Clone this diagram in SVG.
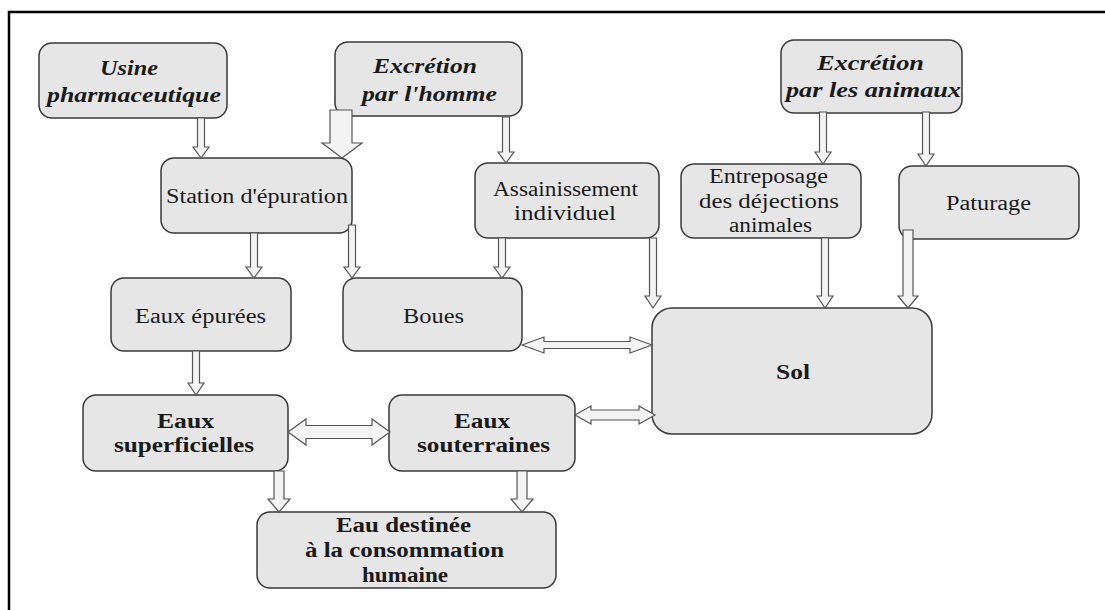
<svg xmlns="http://www.w3.org/2000/svg" width="1105" height="610" viewBox="0 0 1105 610">
<style>
.box{fill:#e6e6e6;stroke:#3a3a3a;stroke-width:1.5}
.arr{fill:#f3f3f3;stroke:#555;stroke-width:1.2;stroke-linejoin:miter}
text{font-family:'Liberation Serif','Times New Roman',Times,serif;fill:#1a1a1a}
.bi{font-size:21px;font-weight:bold;font-style:italic}
.r{font-size:20px}
.b{font-size:20px;font-weight:bold}
.frame{fill:none;stroke:#000;stroke-width:2.5}
</style>
<rect x="0" y="0" width="1105" height="610" fill="#ffffff"/>
<path class="frame" d="M9,610 V12 H1105"/>

<g id="usine">
<rect class="box" x="39" y="43" width="188" height="75" rx="13"/>
<text class="bi" x="100" y="75" textLength="58" lengthAdjust="spacingAndGlyphs">Usine</text>
<text class="bi" x="47" y="102" textLength="174" lengthAdjust="spacingAndGlyphs">pharmaceutique</text>
</g>
<g id="excretion-homme">
<rect class="box" x="335" y="42" width="187" height="74" rx="13"/>
<text class="bi" x="373" y="73" textLength="104" lengthAdjust="spacingAndGlyphs">Excrétion</text>
<text class="bi" x="362" y="101" textLength="135" lengthAdjust="spacingAndGlyphs">par l'homme</text>
</g>
<g id="excretion-animaux">
<rect class="box" x="781" y="40" width="181" height="73" rx="13"/>
<text class="bi" x="817" y="70" textLength="107" lengthAdjust="spacingAndGlyphs">Excrétion</text>
<text class="bi" x="786" y="97" textLength="175" lengthAdjust="spacingAndGlyphs">par les animaux</text>
</g>
<g id="station">
<rect class="box" x="161" y="158" width="191" height="75" rx="13"/>
<text class="r" x="166" y="203" textLength="182" lengthAdjust="spacingAndGlyphs">Station d'épuration</text>
</g>
<g id="assainissement">
<rect class="box" x="475" y="163" width="184" height="75" rx="13"/>
<text class="r" x="493" y="196" textLength="145" lengthAdjust="spacingAndGlyphs">Assainissement</text>
<text class="r" x="514" y="220" textLength="102" lengthAdjust="spacingAndGlyphs">individuel</text>
</g>
<g id="entreposage">
<rect class="box" x="681" y="164" width="180" height="74" rx="13"/>
<text class="r" x="709" y="183" textLength="119" lengthAdjust="spacingAndGlyphs">Entreposage</text>
<text class="r" x="699" y="208" textLength="140" lengthAdjust="spacingAndGlyphs">des déjections</text>
<text class="r" x="729" y="232" textLength="83" lengthAdjust="spacingAndGlyphs">animales</text>
</g>
<g id="paturage">
<rect class="box" x="899" y="166" width="180" height="73" rx="13"/>
<text class="r" x="946" y="210" textLength="85" lengthAdjust="spacingAndGlyphs">Paturage</text>
</g>
<g id="eaux-epurees">
<rect class="box" x="111" y="278" width="180" height="73" rx="13"/>
<text class="r" x="135" y="323" textLength="131" lengthAdjust="spacingAndGlyphs">Eaux épurées</text>
</g>
<g id="boues">
<rect class="box" x="343" y="278" width="179" height="73" rx="13"/>
<text class="r" x="403" y="323" textLength="61" lengthAdjust="spacingAndGlyphs">Boues</text>
</g>
<g id="sol">
<rect class="box" x="652" y="308" width="280" height="126" rx="20"/>
<text class="b" x="776" y="379" font-size="21" textLength="34" lengthAdjust="spacingAndGlyphs">Sol</text>
</g>
<g id="eaux-superficielles">
<rect class="box" x="83" y="395" width="205" height="76" rx="13"/>
<text class="b" x="157" y="428" textLength="57" lengthAdjust="spacingAndGlyphs">Eaux</text>
<text class="b" x="114" y="452" textLength="140" lengthAdjust="spacingAndGlyphs">superficielles</text>
</g>
<g id="eaux-souterraines">
<rect class="box" x="389" y="395" width="186" height="76" rx="13"/>
<text class="b" x="454" y="428" textLength="56" lengthAdjust="spacingAndGlyphs">Eaux</text>
<text class="b" x="417" y="452" textLength="133" lengthAdjust="spacingAndGlyphs">souterraines</text>
</g>
<g id="eau-destinee">
<rect class="box" x="257" y="512" width="299" height="76" rx="13"/>
<text class="b" x="336" y="532" textLength="135" lengthAdjust="spacingAndGlyphs">Eau destinée</text>
<text class="b" x="305" y="557" textLength="199" lengthAdjust="spacingAndGlyphs">à la consommation</text>
<text class="b" x="362" y="582" textLength="86" lengthAdjust="spacingAndGlyphs">humaine</text>
</g>

<g id="connectors">
<polygon class="arr" points="197.5,118 204.5,118 204.5,147 209,147 201,158 193,147 197.5,147"/>
<polygon class="arr" points="330,110 352,110 352,143 362,143 342,158 322,143 330,143"/>
<polygon class="arr" points="502.5,117 509.5,117 509.5,152 514,152 506,163 498,152 502.5,152"/>
<polygon class="arr" points="250.5,233 257.5,233 257.5,267 262,267 254,278 246,267 250.5,267"/>
<polygon class="arr" points="348.5,225 355.5,225 355.5,267 360,267 352,278 344,267 348.5,267"/>
<polygon class="arr" points="498.5,238 505.5,238 505.5,267 510,267 502,278 494,267 498.5,267"/>
<polygon class="arr" points="649.5,238 656.5,238 656.5,296 661,296 653,308 645,296 649.5,296"/>
<polygon class="arr" points="819.5,112 826.5,112 826.5,152 831,152 823,164 815,152 819.5,152"/>
<polygon class="arr" points="922.5,112 929.5,112 929.5,154 934,154 926,166 918,154 922.5,154"/>
<polygon class="arr" points="821.5,238 828.5,238 828.5,296 833,296 825,308 817,296 821.5,296"/>
<polygon class="arr" points="903,230 913,230 913,296 918,296 908,308 898,296 903,296"/>
<polygon class="arr" points="192.5,351 199.5,351 199.5,383 204,383 196,395 188,383 192.5,383"/>
<polygon class="arr" points="274,471 284,471 284,499 290,499 279,512 268,499 274,499"/>
<polygon class="arr" points="517,471 527,471 527,499 533,499 522,512 511,499 517,499"/>
<polygon class="arr" points="522,345 544,337 544,341.5 630,341.5 630,337 652,345 630,353 630,348.5 544,348.5 544,353"/>
<polygon class="arr" points="575,415 591,406 591,410 639,410 639,406 655,415 639,424 639,420 591,420 591,424"/>
<polygon class="arr" points="288,432 306,419 306,425.5 372,425.5 372,419 390,432 372,445 372,438.5 306,438.5 306,445"/>
</g>
</svg>
